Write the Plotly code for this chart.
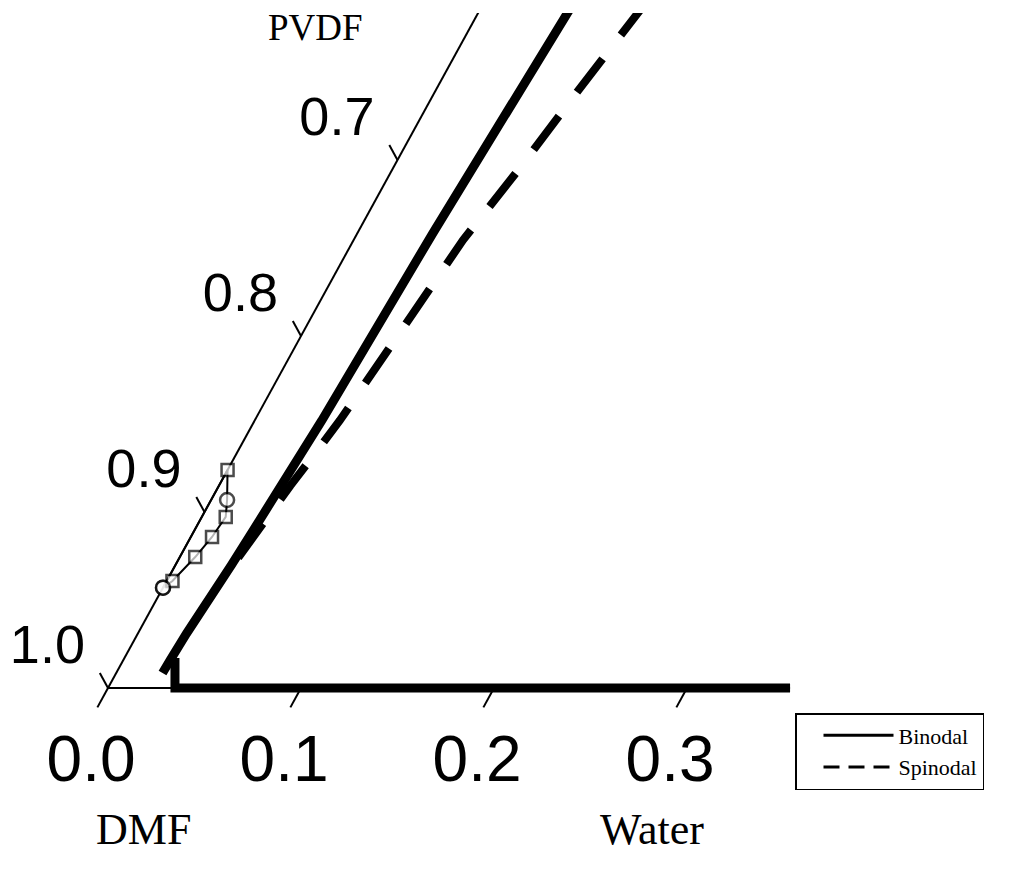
import plotly.graph_objects as go

# ---------------- data (mass fractions; DMF = 1 - water - PVDF) ----------------
binodal_water = [0.0468, 0.0428, 0.0391, 0.0348, 0.0335, 0.0305, 0.0290, 0.0265, 0.0252, 0.0243, 0.0240,
                 None, 0.0262, 0.0347, 0.3534]
binodal_pvdf = [0.392, 0.3227, 0.2585, 0.152, 0.125, 0.090, 0.070, 0.050, 0.031, 0.016, 0.0085,
                None, 0.017, 0.0, 0.0]

spinodal_water = [0.0305, 0.0335, 0.0370, 0.0410, 0.0441, 0.0567, 0.0657, 0.0737, 0.0829, 0.0845]
spinodal_pvdf = [0.074, 0.095, 0.115, 0.135, 0.152, 0.2545, 0.2955, 0.3386, 0.3835, 0.392]

exp_water = [0.000, 0.003, 0.008, 0.011, 0.0124, 0.0083, 0.000, 0.000]
exp_pvdf = [0.057, 0.0608, 0.0744, 0.0858, 0.0972, 0.1068, 0.1239, 0.057]
exp_symbols = ["circle", "square", "square", "square", "square", "circle", "square", "circle"]
exp_sizes = [14, 12, 12, 12, 12, 14, 12, 14]

water_ticks = [0.0, 0.1, 0.2, 0.3]
water_tick_labels = ["0.0", "0.1", "0.2", "0.3"]
pvdf_ticks = [0.0, 0.1, 0.2, 0.3]
dmf_tick_labels = ["1.0", "0.9", "0.8", "0.7"]

axis_top_pvdf = 0.392
axis_end_water = 0.3534


# ternary (water, PVDF) -> cartesian
def tx(w, p):
    return None if (w is None or p is None) else w + p / 2.0


def ty(w, p):
    return None if (w is None or p is None) else p


fig = go.Figure()

# left edge (water = 0) and bottom edge (PVDF = 0)
fig.add_trace(go.Scatter(
    x=[tx(0, 0), tx(0, axis_top_pvdf), None, tx(0, 0), tx(axis_end_water, 0)],
    y=[ty(0, 0), ty(0, axis_top_pvdf), None, ty(0, 0), ty(axis_end_water, 0)],
    mode="lines", line=dict(color="black", width=2), showlegend=False, hoverinfo="skip"))

# tick marks
tlen_b = 0.011
tlen_l = 0.0085
tick_x, tick_y = [], []
for t in water_ticks:
    tick_x += [tx(t, 0), tx(t, -tlen_b), None]
    tick_y += [ty(t, 0), ty(t, -tlen_b), None]
for t in pvdf_ticks:
    tick_x += [tx(0, t), tx(-tlen_l, t + tlen_l), None]
    tick_y += [ty(0, t), ty(-tlen_l, t + tlen_l), None]
fig.add_trace(go.Scatter(x=tick_x, y=tick_y, mode="lines", line=dict(color="black", width=2),
                         showlegend=False, hoverinfo="skip", cliponaxis=False))

# tick labels
fig.add_trace(go.Scatter(
    x=[tx(t, 0) - 0.0088 for t in water_ticks], y=[-0.0437 for _ in water_ticks],
    text=water_tick_labels, mode="text",
    textfont=dict(family="Liberation Sans", size=64, color="black"),
    showlegend=False, hoverinfo="skip", cliponaxis=False))
fig.add_trace(go.Scatter(
    x=[tx(-0.0422, t + 0.0216) for t in pvdf_ticks], y=[ty(-0.0422, t + 0.0216) for t in pvdf_ticks],
    text=dmf_tick_labels, mode="text",
    textfont=dict(family="Liberation Sans", size=54, color="black"),
    showlegend=False, hoverinfo="skip", cliponaxis=False))

# experimental points
fig.add_trace(go.Scatter(
    x=[tx(w, p) for w, p in zip(exp_water, exp_pvdf)],
    y=[ty(w, p) for w, p in zip(exp_water, exp_pvdf)],
    mode="lines+markers", line=dict(color="black", width=2),
    marker=dict(symbol=exp_symbols, size=exp_sizes, color="white", line=dict(color="black", width=2.5)),
    showlegend=False, hoverinfo="skip"))

# binodal and spinodal
fig.add_trace(go.Scatter(
    x=[tx(w, p) for w, p in zip(binodal_water, binodal_pvdf)],
    y=[ty(w, p) for w, p in zip(binodal_water, binodal_pvdf)],
    mode="lines", line=dict(color="black", width=9), connectgaps=False,
    name="Binodal", showlegend=False))
fig.add_trace(go.Scatter(
    x=[tx(w, p) for w, p in zip(spinodal_water, spinodal_pvdf)],
    y=[ty(w, p) for w, p in zip(spinodal_water, spinodal_pvdf)],
    mode="lines", line=dict(color="black", width=8, dash="42px,30px"),
    name="Spinodal", showlegend=False))

# legend entries
fig.add_trace(go.Scatter(x=[None], y=[None], mode="lines", name="Binodal",
                         line=dict(color="black", width=3)))
fig.add_trace(go.Scatter(x=[None], y=[None], mode="lines", name="Spinodal",
                         line=dict(color="black", width=3, dash="16px,9px")))

# page offset of the figure inside the browser page (body margin)
OFF = 8
W, H = 1036 - OFF, 870 - OFF
X0, Y0, T = 108 - OFF, 688 - OFF, 13 - OFF


def px(x):
    return (x - OFF) / W


def py(y):
    return (H - (y - OFF)) / (H - T)


title_font = dict(family="Liberation Serif", color="black")
fig.update_layout(
    width=W, height=H,
    margin=dict(l=0, r=0, t=T, b=0, pad=0),
    paper_bgcolor="white", plot_bgcolor="white",
    xaxis=dict(range=[-X0 / 1930, (W - X0) / 1930], visible=False, fixedrange=True),
    yaxis=dict(range=[-(H - Y0) / 1760, (Y0 - T) / 1760], visible=False, fixedrange=True),
    legend=dict(x=px(795), xanchor="left", y=py(713), yanchor="top",
                bordercolor="black", borderwidth=1.5, bgcolor="white",
                font=dict(family="Liberation Serif", size=22, color="black"),
                itemwidth=70, indentation=22, tracegroupgap=0),
    annotations=[
        dict(text="PVDF", x=px(315), y=py(28), xref="paper", yref="paper",
             xanchor="center", yanchor="middle", showarrow=False, font=dict(size=37, **title_font)),
        dict(text="DMF", x=px(143), y=py(829), xref="paper", yref="paper",
             xanchor="center", yanchor="middle", showarrow=False, font=dict(size=44, **title_font)),
        dict(text="Water", x=px(652), y=py(829), xref="paper", yref="paper",
             xanchor="center", yanchor="middle", showarrow=False, font=dict(size=44, **title_font)),
    ],
)

fig.write_html("out.html")
